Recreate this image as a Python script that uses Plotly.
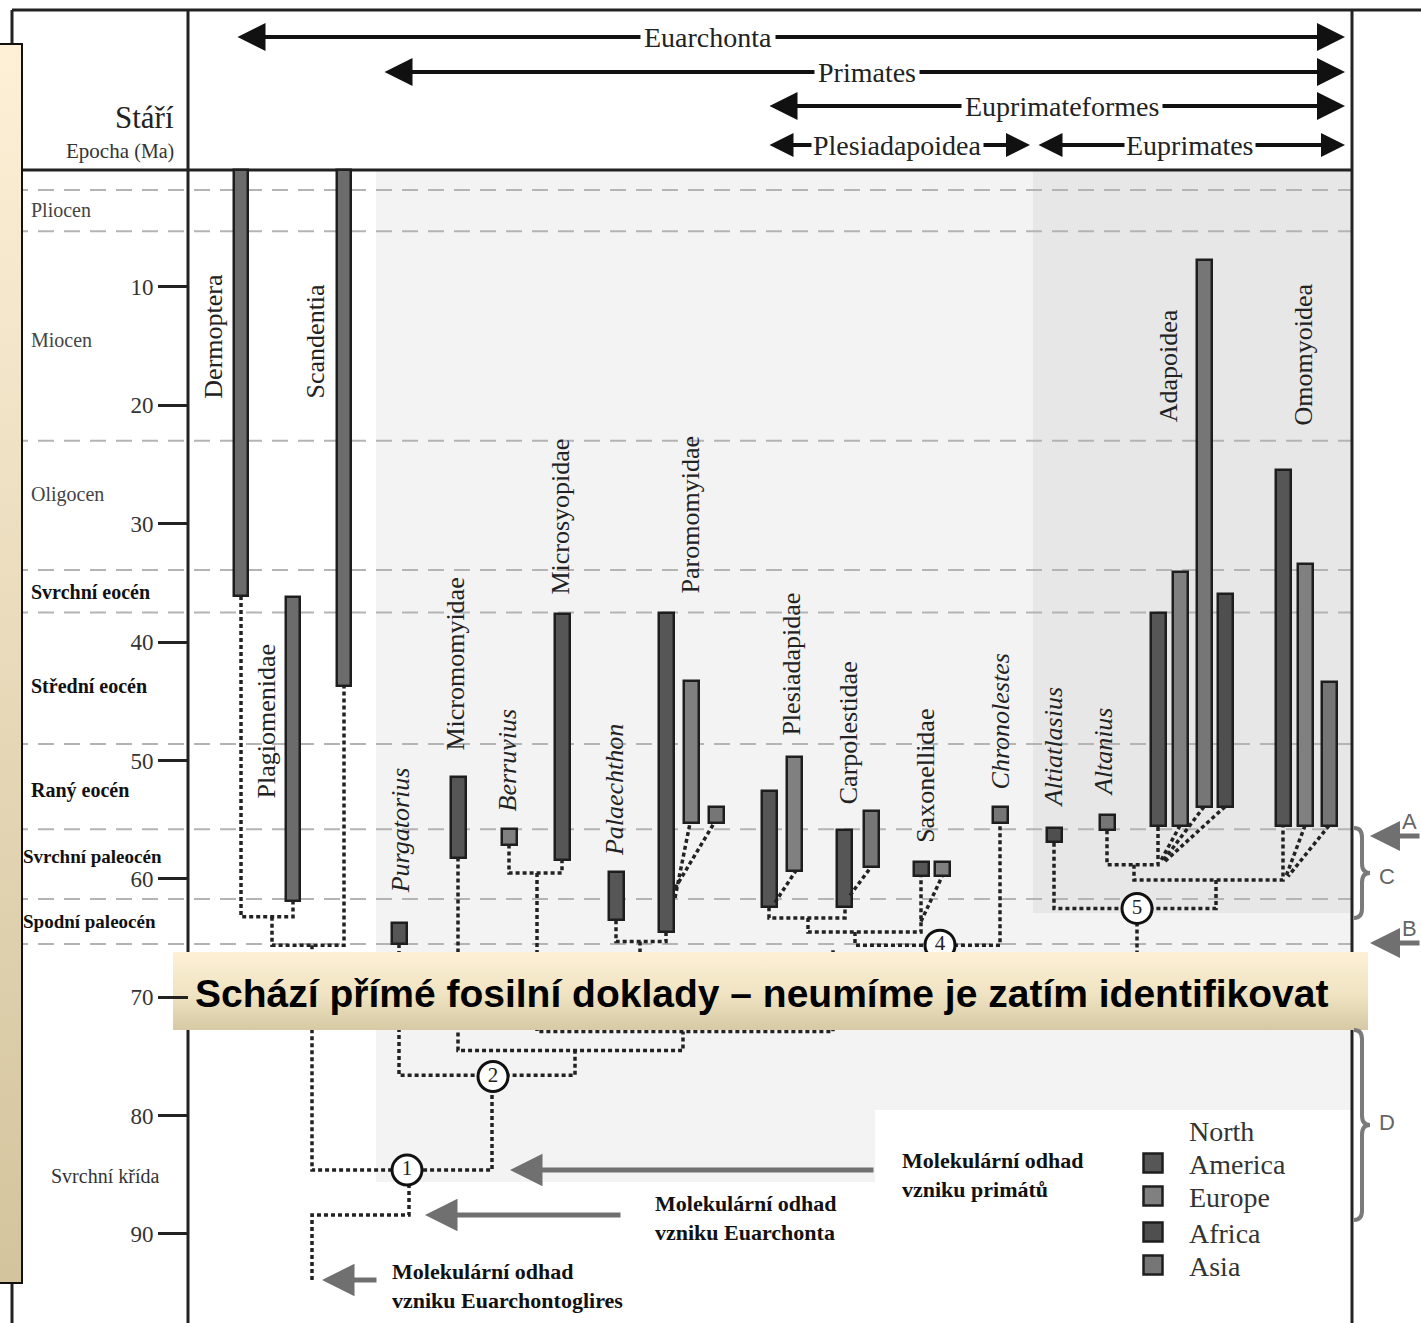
import plotly.graph_objects as go

# ---------------- data (ages in Ma) ----------------
tick_ages = [10, 20, 30, 40, 50, 60, 70, 80, 90]
epoch_bounds = [1.8, 5.3, 23.0, 33.9, 37.5, 48.6, 55.8, 61.7, 65.5]
epoch_names = ["Pliocen", "Miocen", "Oligocen", "Svrchní eocén", "Střední eocén",
               "Raný eocén", "Svrchní paleocén", "Spodní paleocén", "Svrchní křída"]
epoch_label_age = [3.5, 14.5, 27.5, 35.8, 43.7, 52.5, 58.1, 63.6, 85.1]
epoch_bold = [False, False, False, True, True, True, True, True, False]

# stratigraphic ranges: column, first/last appearance, region
range_col = [241, 344, 293, 399, 458, 509, 562, 616, 666, 691, 716, 769, 794, 844, 871,
             921, 942, 1000, 1054, 1107, 1158, 1180, 1204, 1225, 1283, 1305, 1329]
range_top = [0.1, 0.1, 36.2, 63.7, 51.4, 55.8, 37.6, 59.4, 37.5, 43.3, 53.9, 52.6, 49.7, 55.9, 54.3,
             58.6, 58.6, 53.9, 55.7, 54.6, 37.5, 34.1, 7.7, 35.9, 25.5, 33.4, 43.4]
range_bottom = [36.1, 43.7, 61.9, 65.5, 58.2, 57.1, 58.4, 63.5, 64.5, 55.3, 55.3, 62.4, 59.3, 62.4, 59.0,
                59.8, 59.8, 55.3, 56.9, 55.9, 55.5, 55.5, 53.9, 53.9, 55.5, 55.5, 55.5]
range_region = ["other", "other", "other", "North America", "North America", "Europe", "North America",
                "North America", "North America", "Europe", "Asia", "North America", "Europe",
                "North America", "Asia", "North America", "Europe", "Asia", "Africa", "Asia",
                "North America", "Europe", "Asia", "Africa", "North America", "Europe", "Asia"]

taxon_names = ["Dermoptera", "Scandentia", "Plagiomenidae", "<i>Purgatorius</i>", "Micromomyidae",
               "<i>Berruvius</i>", "Microsyopidae", "<i>Palaechthon</i>", "Paromomyidae", "Plesiadapidae",
               "Carpolestidae", "Saxonellidae", "<i>Chronolestes</i>", "<i>Altiatlasius</i>",
               "<i>Altanius</i>", "Adapoidea", "Omomyoidea"]
taxon_col = [214, 315, 266, 400, 456, 507, 561, 614, 690, 792, 848, 926, 1000, 1053, 1103, 1168, 1303]
taxon_age = [14.2, 14.6, 46.7, 55.9, 41.9, 50.0, 29.4, 52.5, 29.3, 41.9, 47.7, 51.3, 46.7, 48.9, 49.3, 16.7, 15.7]

# phylogeny connectors (column, age)
tree_paths = [
    [(241, 36.1), (241, 63.2), (293, 63.2), (293, 61.9)],
    [(272, 63.2), (272, 65.6), (344, 65.6), (344, 43.7)],
    [(312, 65.6), (312, 84.6), (492, 84.6), (492, 76.7)],
    [(409, 84.6), (409, 88.4), (312, 88.4), (312, 94.1)],
    [(399, 65.5), (399, 76.6), (575, 76.6), (575, 74.5)],
    [(458, 58.2), (458, 74.5), (683, 74.5), (683, 72.9)],
    [(509, 57.1), (509, 59.5), (562, 59.5), (562, 58.4)],
    [(537, 59.5), (537, 72.9), (833, 72.9), (833, 66.0)],
    [(616, 63.5), (616, 65.3), (666, 65.3), (666, 64.5)],
    [(640, 65.3), (640, 72.9)],
    [(675, 61.6), (690, 55.3)],
    [(675, 60.8), (714, 55.3)],
    [(769, 62.4), (769, 63.3), (845, 63.3), (845, 62.4)],
    [(775, 62.0), (796, 59.3)],
    [(850, 61.4), (871, 59.0)],
    [(808, 63.3), (808, 64.5), (921, 64.5), (921, 59.8)],
    [(921, 63.6), (942, 59.8)],
    [(855, 64.5), (855, 65.6), (1000, 65.6), (1000, 55.3)],
    [(1107, 55.9), (1107, 58.8), (1158, 58.8), (1158, 55.5)],
    [(1180, 55.5), (1160, 58.6)],
    [(1204, 53.9), (1162, 58.6)],
    [(1225, 53.9), (1164, 58.6)],
    [(1134, 58.8), (1134, 60.1), (1283, 60.1), (1283, 55.5)],
    [(1305, 55.5), (1286, 59.8)],
    [(1329, 55.5), (1288, 59.8)],
    [(1216, 60.1), (1216, 62.5), (1054, 62.5), (1054, 56.9)],
    [(1137, 62.5), (1137, 67.5)],
]
node_col = [407, 493, 940, 1137]
node_age = [84.6, 76.7, 65.6, 62.5]
node_label = ["1", "2", "4", "5"]

clade_names = ["Euarchonta", "Primates", "Euprimateformes", "Plesiadapoidea", "Euprimates"]
clade_from = [236, 383, 768, 768, 1037]
clade_to = [1345, 1345, 1345, 1030, 1345]

legend_regions = ["North America", "Europe", "Africa", "Asia"]
legend_text = ["America", "Europe", "Africa", "Asia"]

region_color = {"other": "#6c6c6c", "North America": "#565656", "Europe": "#808080",
                "Africa": "#4f4f4f", "Asia": "#767676"}

# ---------------- helpers ----------------
W, H = 1421, 1323
Y0, K = 168.6, 11.8375


def ma(py):
    # page pixel row -> age on the y axis
    return (py - Y0) / K


SERIF = "Liberation Serif, Times New Roman, serif"
INK = "#222222"

fig = go.Figure()

# background panels
shapes = [
    dict(type="rect", x0=376, x1=1352, y0=ma(170), y1=ma(1110), fillcolor="#f3f3f3", line_width=0, layer="below"),
    dict(type="rect", x0=376, x1=875, y0=ma(1110), y1=ma(1182), fillcolor="#f3f3f3", line_width=0, layer="below"),
    dict(type="rect", x0=1033, x1=1352, y0=ma(170), y1=ma(913), fillcolor="#e7e7e7", line_width=0, layer="below"),
]
for b in epoch_bounds:
    shapes.append(dict(type="line", x0=12, x1=1352, y0=b, y1=b, layer="below",
                       line=dict(color="#b4b4b4", width=2, dash="16px,10px")))
frame = [(12, 10, 1421, 10), (12, 170, 1352, 170), (12, 10, 12, 1323),
         (188, 10, 188, 1323), (1352, 10, 1352, 1323)]
for x0, p0, x1, p1 in frame:
    shapes.append(dict(type="line", x0=x0, x1=x1, y0=ma(p0), y1=ma(p1), layer="below",
                       line=dict(color=INK, width=3)))


def brace(x0, top, bot, h=0.8, d=8):
    mid = (top + bot) / 2
    xs, xt = x0 + d, x0 + 2 * d
    return (f"M {x0},{top} Q {xs},{top} {xs},{top + h} L {xs},{mid - h} "
            f"Q {xs},{mid} {xt},{mid} Q {xs},{mid} {xs},{mid + h} L {xs},{bot - h} "
            f"Q {xs},{bot} {x0},{bot}")


shapes.append(dict(type="path", path=brace(1354, ma(828), ma(918)), line=dict(color="#7a7a7a", width=4)))
shapes.append(dict(type="path", path=brace(1354, ma(1030), ma(1220)), line=dict(color="#7a7a7a", width=4)))
fig.update_layout(shapes=shapes)

# stratigraphic range bars
for reg, col in region_color.items():
    idx = [i for i, r in enumerate(range_region) if r == reg]
    fig.add_trace(go.Bar(
        x=[range_col[i] for i in idx],
        y=[range_bottom[i] - range_top[i] for i in idx],
        base=[range_top[i] for i in idx],
        width=[14 if reg == "other" else 15 for _ in idx],
        marker=dict(color=col, line=dict(color="#1e1e1e", width=2.5)),
        showlegend=False, hoverinfo="skip",
    ))

# phylogeny (dotted)
tx, ty = [], []
for path in tree_paths:
    for x, a in path:
        tx.append(x)
        ty.append(a)
    tx.append(None)
    ty.append(None)
fig.add_trace(go.Scatter(x=tx, y=ty, mode="lines", line=dict(color=INK, width=3.5, dash="4px,3px"),
                         showlegend=False, hoverinfo="skip"))
fig.add_trace(go.Scatter(
    x=node_col, y=node_age, mode="markers+text", text=node_label,
    textfont=dict(family=SERIF, size=21, color=INK), textposition="middle center",
    marker=dict(size=30, color="white", line=dict(color="#111111", width=3)),
    showlegend=False, hoverinfo="skip"))

# legend squares
leg_age = [ma(1163), ma(1196), ma(1232), ma(1265)]
fig.add_trace(go.Scatter(
    x=[1153] * 4, y=leg_age, mode="markers",
    marker=dict(symbol="square", size=19, color=[region_color[r] for r in legend_regions],
                line=dict(color="#1e1e1e", width=2.5)),
    showlegend=False, hoverinfo="skip"))

# left beige side box and the banner (vertical gradients)
fig.add_trace(go.Scatter(
    x=[-4, 22, 22, -4, -4], y=[ma(44), ma(44), ma(1283), ma(1283), ma(44)],
    fill="toself", mode="lines", line=dict(color="#111111", width=2),
    fillgradient=dict(type="vertical", colorscale=[[0, "#d3c49d"], [1, "#fdf0d7"]]),
    showlegend=False, hoverinfo="skip"))
fig.add_trace(go.Scatter(
    x=[173, 1368, 1368, 173, 173], y=[ma(952), ma(952), ma(1030), ma(1030), ma(952)],
    fill="toself", mode="lines", line=dict(width=0, color="rgba(0,0,0,0)"),
    fillgradient=dict(type="vertical", colorscale=[[0, "#d6c9a4"], [0.45, "#efe3c2"], [1, "#fdf0d6"]]),
    showlegend=False, hoverinfo="skip"))

ann = []

# banner text
ann.append(dict(x=193, y=ma(993), xanchor="left", yanchor="middle", showarrow=False,
                text="<b>Schází přímé fosilní doklady – neumíme je zatím identifikovat</b>",
                font=dict(family="Liberation Sans Narrow, Arial Narrow, Liberation Sans, Arial", size=39,
                          color="#000000")))

# header
ann.append(dict(x=176, y=ma(117), xanchor="right", yanchor="middle", showarrow=False, text="Stáří",
                font=dict(family=SERIF, size=31, color=INK)))
ann.append(dict(x=176, y=ma(151), xanchor="right", yanchor="middle", showarrow=False,
                text="Epocha <span style='font-size:20px'>(Ma)</span>",
                font=dict(family=SERIF, size=21, color="#333333")))

clade_row = [37, 72, 106, 145, 145]
clade_label_x = [708, 867, 1062, 897, 1190]
for name, x0, x1, py, lx in zip(clade_names, clade_from, clade_to, clade_row, clade_label_x):
    small = py == 145
    ann.append(dict(x=x1, y=ma(py), ax=x0, ay=ma(py), xref="x", yref="y", axref="x", ayref="y",
                    text="", showarrow=True, arrowside="end+start", arrowhead=2, startarrowhead=2,
                    arrowsize=1.4 if not small else 1.2, startarrowsize=1.4 if not small else 1.2,
                    arrowwidth=4, arrowcolor="#111111"))
    ann.append(dict(x=lx, y=ma(py), showarrow=False, text=name, bgcolor="white",
                    borderpad=1 if small else 3,
                    font=dict(family=SERIF, size=28, color=INK)))

# epoch labels
for name, a, bold in zip(epoch_names, epoch_label_age, epoch_bold):
    if name == "Svrchní křída":
        ann.append(dict(x=105, y=a, showarrow=False, text=name, xanchor="center",
                        font=dict(family=SERIF, size=20, color="#333333")))
    else:
        paleo = name.startswith(("Svrchní p", "Spodní"))
        ann.append(dict(x=21 if paleo else 29, y=a, showarrow=False,
                        xanchor="left", text=f"<b>{name}</b>" if bold else name,
                        font=dict(family=SERIF, size=19 if paleo else 20,
                                  color="#111111" if bold else "#444444")))

# taxon labels
for name, x, a in zip(taxon_names, taxon_col, taxon_age):
    ann.append(dict(x=x, y=a, textangle=-90, showarrow=False, text=name,
                    font=dict(family=SERIF, size=26, color=INK)))

# molecular estimate arrows
mol_rows = [1170, 1215, 1280]
mol_from = [875, 622, 378]
mol_to = [510, 425, 322]
mol_label = ["<b>Molekulární odhad<br>vzniku primátů</b>", "<b>Molekulární odhad<br>vzniku Euarchonta</b>",
             "<b>Molekulární odhad<br>vzniku Euarchontoglires</b>"]
mol_label_x = [900, 653, 390]
mol_label_y = [1175, 1218, 1286]
for py, x0, x1, lab, lx, ly in zip(mol_rows, mol_from, mol_to, mol_label, mol_label_x, mol_label_y):
    ann.append(dict(x=x1, y=ma(py), ax=x0, ay=ma(py), xref="x", yref="y", axref="x", ayref="y",
                    text="", showarrow=True, arrowhead=2, arrowsize=1.3, arrowwidth=5, arrowcolor="#707070"))
    ann.append(dict(x=lx, y=ma(ly), xanchor="left", align="left", showarrow=False, text=lab,
                    font=dict(family=SERIF, size=22, color="#111111")))

# A / B markers and brace labels
for lab, py in (("A", 836), ("B", 943)):
    ann.append(dict(x=1370, y=ma(py), ax=1421, ay=ma(py), xref="x", yref="y", axref="x", ayref="y",
                    text="", showarrow=True, arrowhead=2, arrowsize=1.2, arrowwidth=5, arrowcolor="#707070"))
    ann.append(dict(x=1409, y=ma(py - 15), showarrow=False, text=lab,
                    font=dict(family="Liberation Sans, Arial", size=22, color="#666666")))
for lab, py in (("C", 876), ("D", 1122)):
    ann.append(dict(x=1387, y=ma(py), showarrow=False, text=lab,
                    font=dict(family="Liberation Sans, Arial", size=22, color="#666666")))

# legend text
ann.append(dict(x=1187, y=ma(1131), xanchor="left", showarrow=False, text="North",
                font=dict(family=SERIF, size=28, color="#333333")))
for t, a in zip(legend_text, leg_age):
    ann.append(dict(x=1187, y=a + 0.15, xanchor="left", showarrow=False, text=t,
                    font=dict(family=SERIF, size=28, color="#333333")))

fig.update_layout(
    annotations=ann,
    width=W, height=H,
    margin=dict(l=0, r=0, t=0, b=0, pad=0),
    paper_bgcolor="white", plot_bgcolor="white",
    barmode="overlay", bargap=0,
    xaxis=dict(range=[0, W], visible=False, fixedrange=True),
    yaxis=dict(range=[ma(H), ma(0)], anchor="free", position=188 / W, side="left",
               tickvals=tick_ages, ticks="outside", ticklen=30, tickwidth=3, tickcolor=INK,
               showline=False, showgrid=False, zeroline=False, automargin=False,
               tickfont=dict(family=SERIF, size=23, color="#333333")),
)

fig.write_html("out.html", config={"displayModeBar": False},
               post_script="document.body.style.margin='0';")
